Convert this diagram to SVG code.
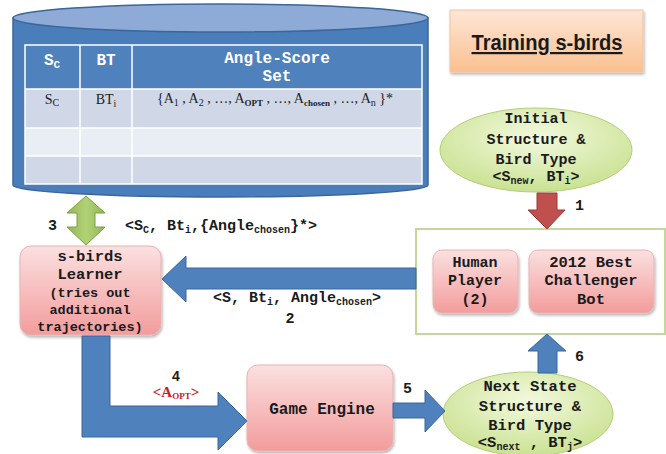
<svg xmlns="http://www.w3.org/2000/svg" width="666" height="454" viewBox="0 0 666 454">
  <defs>
    <linearGradient id="pinkFill" x1="0" y1="0" x2="0" y2="1">
      <stop offset="0" stop-color="#FBE0E0"/>
      <stop offset="1" stop-color="#F39C9C"/>
    </linearGradient>
    <radialGradient id="greenFill" cx="0.5" cy="0.35" r="0.7">
      <stop offset="0" stop-color="#F3F9DE"/>
      <stop offset="1" stop-color="#C6E08C"/>
    </radialGradient>
    <linearGradient id="titleFill" x1="0" y1="0" x2="0" y2="1">
      <stop offset="0" stop-color="#FDE6D6"/>
      <stop offset="1" stop-color="#FAC090"/>
    </linearGradient>
    <linearGradient id="greenArrow" x1="0" y1="0" x2="1" y2="0">
      <stop offset="0" stop-color="#92B852"/>
      <stop offset="0.5" stop-color="#B2D177"/>
      <stop offset="1" stop-color="#92B852"/>
    </linearGradient>
    <filter id="shadow" x="-10%" y="-10%" width="125%" height="130%">
      <feGaussianBlur in="SourceAlpha" stdDeviation="1.5"/>
      <feOffset dx="1" dy="2" result="b"/>
      <feComponentTransfer><feFuncA type="linear" slope="0.3"/></feComponentTransfer>
      <feMerge><feMergeNode/><feMergeNode in="SourceGraphic"/></feMerge>
    </filter>
  </defs>
  <style>
    .mono { font-family: 'Courier New', 'Nimbus Mono PS', 'Nimbus Mono L', FreeMono, 'Liberation Mono', monospace; font-weight: bold; fill: #1a1a1a; }
    .serif { font-family: 'Liberation Serif', 'Times New Roman', serif; fill: #222; }
    .pink { fill: url(#pinkFill); stroke: #E7B4B3; stroke-width: 1; }
    .oval { fill: url(#greenFill); stroke: #B3CD78; stroke-width: 1; }
    .blue { fill: #4F81BD; stroke: #3A679C; stroke-width: 1; }
    .red { fill: #C0504D; stroke: #9E3B39; stroke-width: 1; }
    .hdr { fill: #4F81BD; }
    .rowA { fill: #D0D8E8; }
    .rowB { fill: #E9EDF4; }
    .grid { stroke: #FFFFFF; stroke-width: 1.5; fill: none; }
    .hdrtxt { font-family: 'Courier New', 'Nimbus Mono PS', 'Nimbus Mono L', FreeMono, 'Liberation Mono', monospace; font-weight: bold; fill: #FFFFFF; font-size: 16px; }
  </style>

  <rect width="666" height="454" fill="#FFFFFF"/>

  <!-- database cylinder with the angle-score table -->
  <g id="database">
    <path d="M13,18 L13,185 A207.5,12 0 0 0 428,185 L428,18 Z" fill="#4A7EBB" stroke="#3A669A" stroke-width="1.5"/>
    <ellipse cx="220.5" cy="18" rx="207.5" ry="14" fill="#8EAAD6" stroke="#3A669A" stroke-width="1.5"/>
    <rect x="25" y="45" width="397" height="44" class="hdr"/>
    <rect x="25" y="89" width="397" height="39" class="rowA"/>
    <rect x="25" y="128" width="397" height="28" class="rowB"/>
    <rect x="25" y="156" width="397" height="28" class="rowA"/>
    <rect x="25" y="45" width="397" height="139" class="grid"/>
    <path class="grid" d="M80,45 V184 M132,45 V184 M25,89 H422 M25,128 H422 M25,156 H422"/>
    <text class="hdrtxt" x="52" y="65" text-anchor="middle">S<tspan font-size="11" dy="3">C</tspan></text>
    <text class="hdrtxt" x="106" y="65" text-anchor="middle">BT</text>
    <text class="hdrtxt" x="277" y="63" text-anchor="middle">Angle-Score</text>
    <text class="hdrtxt" x="277" y="81" text-anchor="middle">Set</text>
    <text class="serif" x="52" y="104" font-size="14" text-anchor="middle">S<tspan font-size="10" dy="2">C</tspan></text>
    <text class="serif" x="106" y="104" font-size="14" text-anchor="middle">BT<tspan font-size="10" dy="3">i</tspan></text>
    <text class="serif" x="157" y="103" font-size="14">{A<tspan font-size="10" dy="3">1</tspan><tspan dy="-3"> , A</tspan><tspan font-size="10" dy="3">2</tspan><tspan dy="-3"> , …, A</tspan><tspan font-size="9" font-weight="bold" dy="3">OPT</tspan><tspan dy="-3"> , …, A</tspan><tspan font-size="9" font-weight="bold" dy="3">chosen</tspan><tspan dy="-3"> , …, A</tspan><tspan font-size="10" dy="3">n</tspan><tspan dy="-3"> }*</tspan></text>
  </g>

  <!-- title -->
  <g id="title">
    <rect x="450" y="10" width="193" height="62" fill="url(#titleFill)" stroke="#F5C49C" stroke-width="1" filter="url(#shadow)"/>
    <text x="547" y="50" font-family="Liberation Sans, Arial, sans-serif" font-weight="bold" font-size="22" fill="#1a1a1a" text-anchor="middle" text-decoration="underline" textLength="151" lengthAdjust="spacingAndGlyphs">Training s-birds</text>
  </g>

  <!-- initial state -->
  <g id="initial-state">
    <ellipse cx="536" cy="150" rx="96" ry="42" class="oval"/>
    <text class="mono" font-size="15" x="536" y="123" text-anchor="middle">Initial</text>
    <text class="mono" font-size="15" x="536" y="144" text-anchor="middle">Structure &amp;</text>
    <text class="mono" font-size="15" x="536" y="164" text-anchor="middle">Bird Type</text>
    <text class="mono" font-size="15" x="536" y="181" text-anchor="middle">&lt;S<tspan font-size="10" dy="3">new</tspan><tspan dy="-3">, BT</tspan><tspan font-size="10" dy="3">i</tspan><tspan dy="-3">&gt;</tspan></text>
  </g>

  <!-- players -->
  <g id="players">
    <rect x="416" y="229" width="249" height="105" fill="#FFFFFF" stroke="#C3D69B" stroke-width="2"/>
  </g>
  <g id="human-player">
    <rect x="433" y="250" width="85" height="63" rx="9" class="pink" filter="url(#shadow)"/>
    <text class="mono" font-size="15" x="475" y="267" text-anchor="middle">Human</text>
    <text class="mono" font-size="15" x="475" y="285" text-anchor="middle">Player</text>
    <text class="mono" font-size="15" x="475" y="304" text-anchor="middle">(2)</text>
  </g>
  <g id="challenger-bot">
    <rect x="529" y="250" width="125" height="63" rx="9" class="pink" filter="url(#shadow)"/>
    <text class="mono" font-size="15.5" x="591" y="267" text-anchor="middle">2012 Best</text>
    <text class="mono" font-size="15.5" x="591" y="285" text-anchor="middle">Challenger</text>
    <text class="mono" font-size="15.5" x="591" y="304" text-anchor="middle">Bot</text>
  </g>

  <!-- learner -->
  <g id="learner">
    <rect x="20" y="246" width="141" height="89" rx="11" class="pink" filter="url(#shadow)"/>
    <text class="mono" font-size="15.5" x="90" y="261" text-anchor="middle">s-birds</text>
    <text class="mono" font-size="15.5" x="90" y="279" text-anchor="middle">Learner</text>
    <text class="mono" font-size="13.5" x="90" y="297" text-anchor="middle">(tries out</text>
    <text class="mono" font-size="13.5" x="90" y="314" text-anchor="middle">additional</text>
    <text class="mono" font-size="13.5" x="90" y="331" text-anchor="middle">trajectories)</text>
  </g>

  <!-- game engine -->
  <g id="game-engine">
    <rect x="247" y="365" width="146" height="86" rx="11" class="pink" filter="url(#shadow)"/>
    <text class="mono" font-size="16" x="322" y="414" text-anchor="middle">Game Engine</text>
  </g>

  <!-- next state -->
  <g id="next-state">
    <ellipse cx="528" cy="414" rx="85" ry="42" class="oval"/>
    <text class="mono" font-size="15.5" x="530" y="391" text-anchor="middle">Next State</text>
    <text class="mono" font-size="15.5" x="530" y="411" text-anchor="middle">Structure &amp;</text>
    <text class="mono" font-size="15.5" x="530" y="430" text-anchor="middle">Bird Type</text>
    <text class="mono" font-size="15.5" x="530" y="447" text-anchor="middle">&lt;S<tspan font-size="10" dy="3">next</tspan><tspan dy="-3"> , BT</tspan><tspan font-size="10" dy="3">j</tspan><tspan dy="-3">&gt;</tspan></text>
  </g>

  <!-- connectors -->
  <g id="connectors">
    <!-- 1: initial state to players -->
    <polygon class="red" points="537,193 557,193 557,210 565,210 547,229 528,210 537,210"/>
    <text class="mono" font-size="15" x="575" y="210">1</text>

    <!-- 2: players to learner -->
    <polygon class="blue" points="416,268 186,268 186,256 162,279 186,302 186,289 416,289"/>
    <text class="mono" font-size="15" x="213" y="302">&lt;S, Bt<tspan font-size="10" dy="3">i</tspan><tspan dy="-3">, Angle</tspan><tspan font-size="10" dy="3">chosen</tspan><tspan dy="-3">&gt;</tspan></text>
    <text class="mono" font-size="15" x="290" y="323" text-anchor="middle">2</text>

    <!-- 3: learner and database, both ways -->
    <polygon fill="url(#greenArrow)" stroke="#7E9E45" stroke-width="1" points="86,196 105,213 95,213 95,227 105,227 86,245 67,227 77,227 77,213 67,213"/>
    <text class="mono" font-size="15" x="48" y="230">3</text>
    <text class="mono" font-size="15" x="125" y="230">&lt;S<tspan font-size="10" dy="3">C</tspan><tspan dy="-3">, Bt</tspan><tspan font-size="10" dy="3">i</tspan><tspan dy="-3">,{Angle</tspan><tspan font-size="10" dy="3">chosen</tspan><tspan dy="-3">}*&gt;</tspan></text>

    <!-- 4: learner to game engine -->
    <polygon class="blue" points="82,336 110,336 110,406 218,406 218,392 247,421 218,450 218,437 82,437"/>
    <text x="176" y="381" font-family="Liberation Sans, Arial, sans-serif" font-weight="bold" font-size="14" fill="#1a1a1a" text-anchor="middle">4</text>
    <text x="176" y="397" font-family="Liberation Serif, Times New Roman, serif" font-weight="bold" font-size="15" fill="#C8201E" text-anchor="middle">&lt;A<tspan font-size="9" dy="2">OPT</tspan><tspan dy="-2">&gt;</tspan></text>

    <!-- 5: game engine to next state -->
    <polygon class="blue" points="393,403 425,403 425,390 445,411 425,432 425,418 393,418"/>
    <text class="mono" font-size="15" x="403" y="393">5</text>

    <!-- 6: next state to players -->
    <polygon class="blue" points="538,373 538,351 528,351 547,334 566,351 557,351 557,373"/>
    <text class="mono" font-size="15" x="575" y="361">6</text>
  </g>
</svg>
